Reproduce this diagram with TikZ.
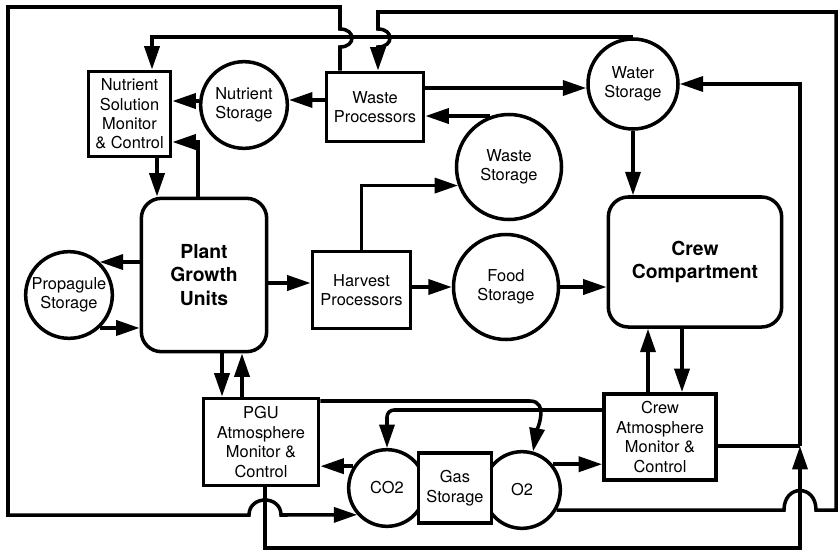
\documentclass[tikz,border=0pt]{standalone}
\usepackage{fontspec}
\setmainfont{TeX Gyre Heros}
\usetikzlibrary{arrows.meta,calc}

\begin{document}
\begin{tikzpicture}[x=0.03cm, y=-0.03cm,
  every node/.style={font=\fontsize{14}{16.6}\selectfont, align=center, line width=3pt, inner sep=0pt},
  unit/.style={draw, rectangle},
  store/.style={draw, circle},
  hub/.style={draw, rectangle, rounded corners=0.6cm, font=\fontsize{16.5}{20}\selectfont\bfseries},
  flow/.style={line width=3pt, ->, >={Triangle[length=0.7cm,width=0.45cm]}}]
\useasboundingbox (0,0) rectangle (839,557);

\node[unit, minimum width=2.47cm, minimum height=2.56cm] (nsmc) at (129.5,114) {Nutrient\\Solution\\Monitor\\\& Control};
\node[store, minimum size=2.6cm] (nutst) at (244,105) {Nutrient\\Storage};
\node[unit, minimum width=2.92cm, minimum height=2.08cm] (wp) at (375,107) {Waste\\Processors};
\node[store, minimum size=2.7cm] (watst) at (633,84) {Water\\Storage};
\node[store, minimum size=3.15cm] (wastst) at (509,167) {Waste\\Storage};
\node[hub, minimum width=3.76cm, minimum height=4.6cm] (pgu) at (204,275) {Plant\\Growth\\Units};
\node[store, minimum size=2.6cm] (prop) at (69,295) {Propagule\\Storage};
\node[unit, minimum width=2.95cm, minimum height=2.32cm] (hp) at (361.5,290) {Harvest\\Processors};
\node[store, minimum size=3.15cm] (food) at (506,287) {Food\\Storage};
\node[hub, minimum width=5.2cm, minimum height=3.9cm] (crew) at (695,262) {Crew\\Compartment};
\node[unit, minimum width=3.46cm, minimum height=2.62cm] (pgam) at (261,442) {PGU\\Atmosphere\\Monitor \&\\Control};
\node[store, minimum size=2.3cm] (co2) at (387,488) {CO2};
\node[store, minimum size=2.3cm] (o2) at (522,490) {O2};
\node[unit, fill=white, minimum width=2.2cm, minimum height=2.11cm] (gas) at (455,488) {Gas\\Storage};
\node[unit, minimum width=3.37cm, minimum height=2.59cm] (cram) at (660,437) {Crew\\Atmosphere\\Monitor \&\\Control};
\coordinate (jw) at (800,446);

\draw[flow] (wp.west |- 0,100) -- (nutst.east |- 0,100);
\draw[flow] (nutst.west |- 0,101) -- (nsmc.east |- 0,101);
\draw[flow] (198,0 |- pgu.north) |- (nsmc.east |- 0,142);
\draw[flow] (157,0 |- nsmc.south) -- (157,0 |- pgu.north);
\draw[flow] (watst.north) -- (152,0 |- watst.north) -- (152,0 |- nsmc.north);
\draw[flow] (wp.east |- 0,88) -- (watst.west |- 0,88);
\draw[flow] (wastst.110) -- (wp.east |- wastst.110);
\draw[flow] (hp.north) |- (wastst.200);
\draw[flow] (pgu.east |- 0,283) -- (hp.west |- 0,283);
\draw[flow] (hp.east |- food) -- (food);
\draw[flow] (food) -- (crew.west |- food);
\draw[flow] (watst.south) -- (watst.south |- crew.north);
\draw[flow] (pgu.west |- prop.47) -- (prop.47);
\draw[flow] (prop.-47) -- (pgu.west |- prop.-47);
\draw[flow] (222,0 |- pgu.south) -- (222,0 |- pgam.north);
\draw[flow] (242,0 |- pgam.north) -- (242,0 |- pgu.south);
\draw[flow] (682,0 |- crew.south) -- (682,0 |- cram.north);
\draw[flow] (648,0 |- cram.north) -- (648,0 |- crew.south);
\draw[flow] (co2.147) -- (pgam.east |- co2.147);
\draw[flow] (o2.40) -- (cram.west |- o2.40);
\draw[flow] (pgam.east |- 0,401) -- (530,401) to[out=0, in=80] (o2.74);
\draw[flow, rounded corners=6pt] (cram.west |- 0,410) -| (co2.north);
\draw[line width=3pt] (cram.east |- jw) -- (jw);
\draw[flow] (265,0 |- pgam.south) |- (800,548) -- (jw);
\draw[flow] (jw) |- (watst.east);
\draw[flow] (o2.-30) -- (784,0 |- o2.-30) .. controls (784,484) and (816,484) .. (816,0 |- o2.-30)
  -- (836,0 |- o2.-30) -- (836,12) -- (378,12) -- (378,29) .. controls (394,29) and (394,47) .. (378,47)
  -- (378,0 |- wp.north);
\draw[flow] (340,0 |- wp.north) -- (340,47) .. controls (356,47) and (356,29) .. (340,29) -- (340,7)
  -- (8,7) -- (8,515) -- (249,515) .. controls (249,495) and (281,495) .. (281,515) -- (co2.-138);
\end{tikzpicture}
\end{document}
